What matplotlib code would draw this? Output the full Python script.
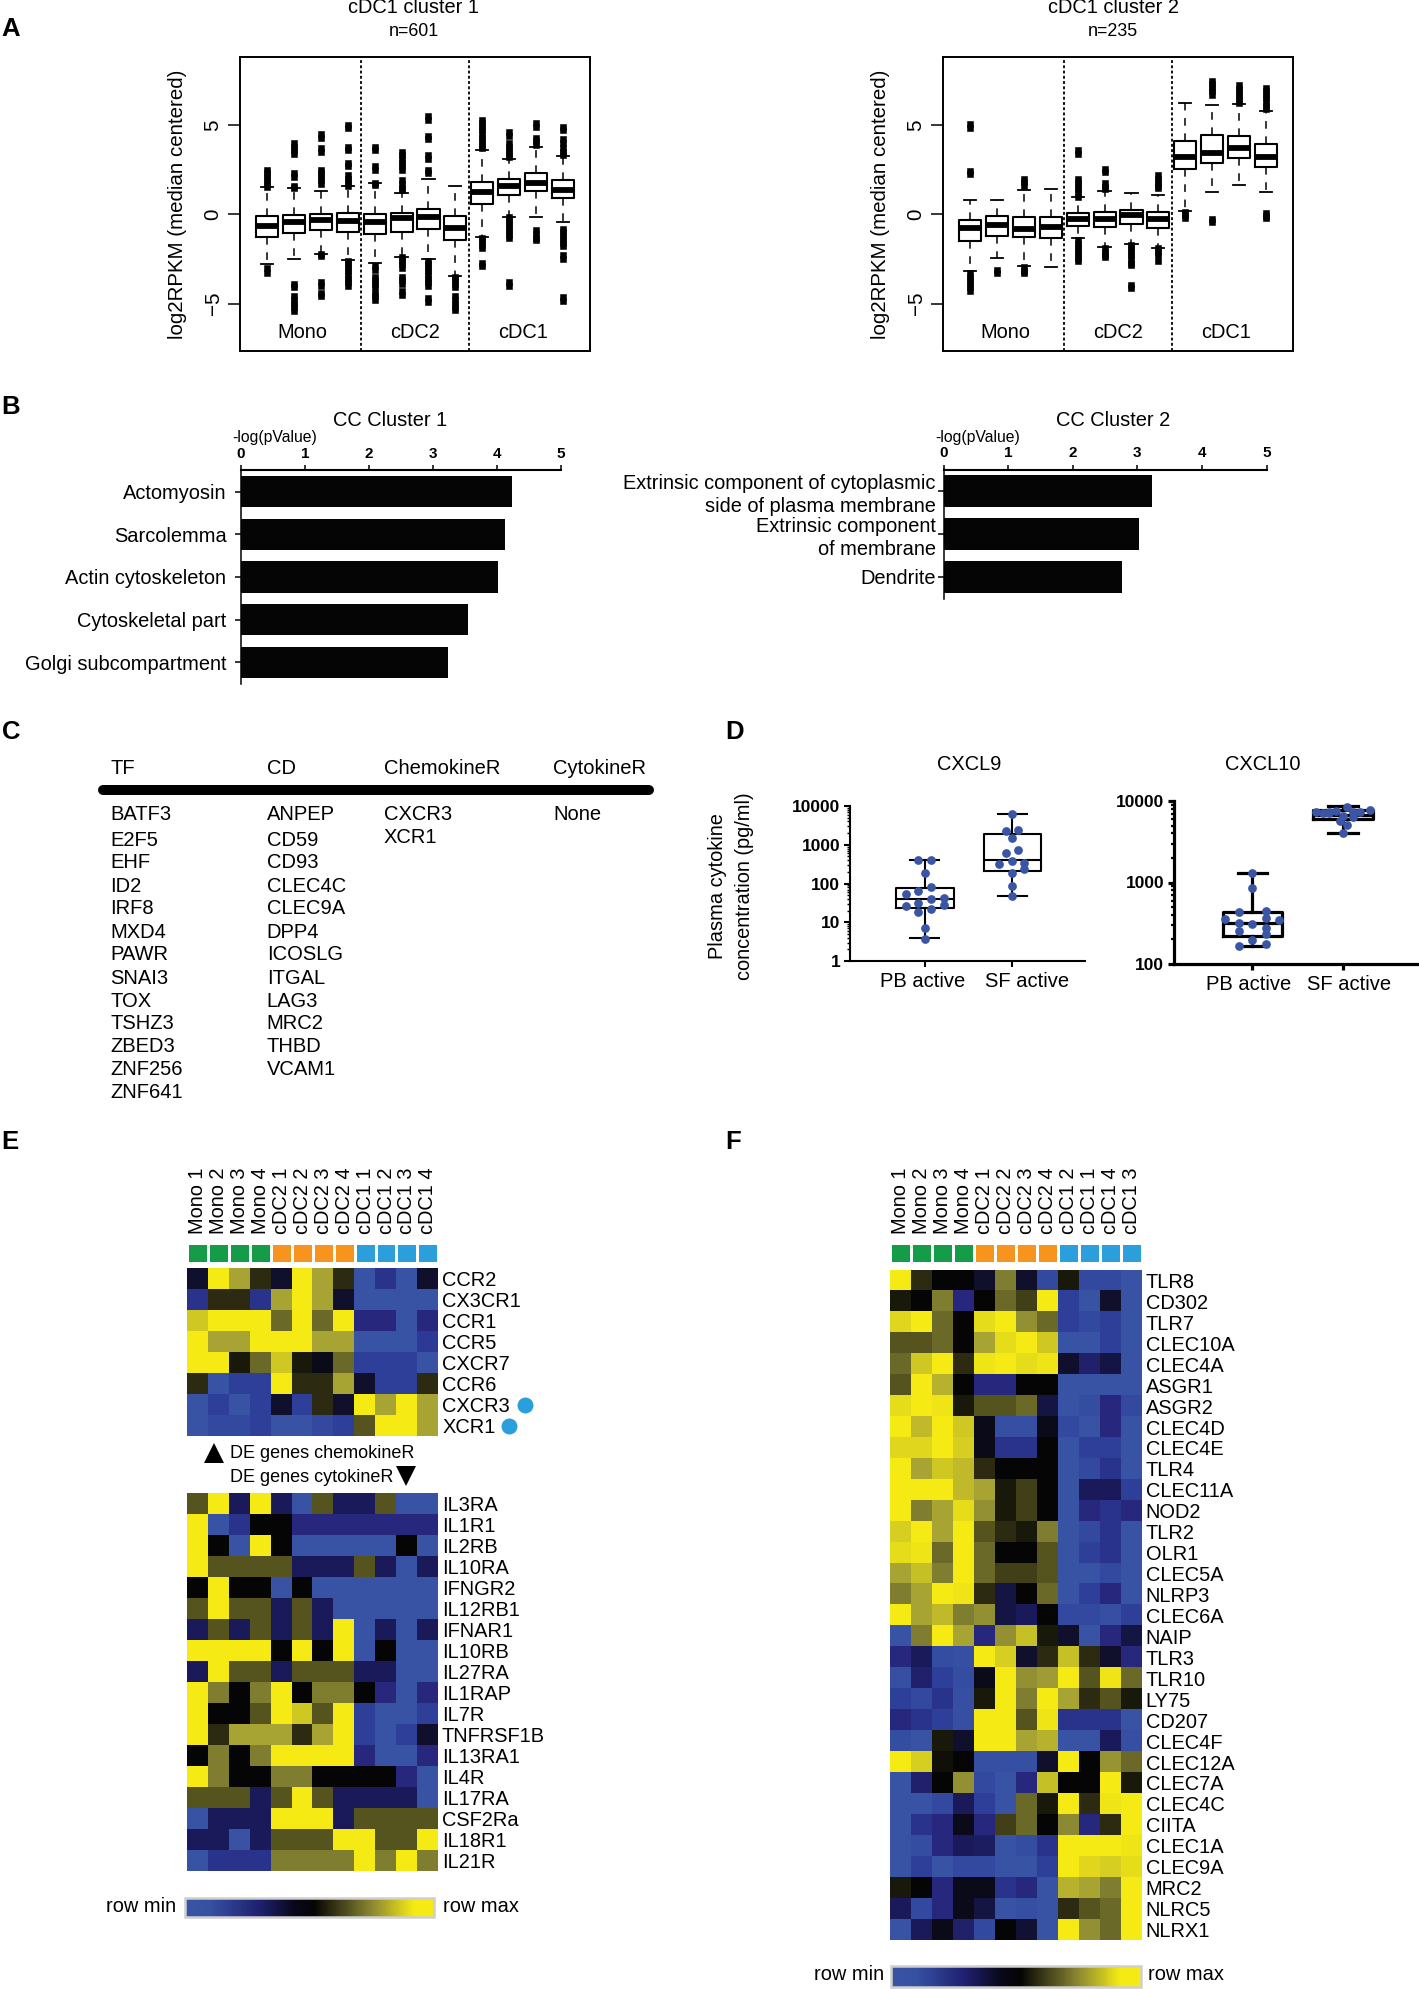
import numpy as np
import matplotlib
matplotlib.use("Agg")
import matplotlib.pyplot as plt
from matplotlib.cm import ScalarMappable
from matplotlib.colors import LinearSegmentedColormap, ListedColormap, Normalize
from matplotlib.transforms import ScaledTranslation

plt.rcParams['font.family'] = ['Liberation Sans', 'DejaVu Sans']

W, H = 1419, 1989
FS = 14.4

#region data A
a1_q3 = [-0.09, -0.04, 0.0, 0.09, 0.0, 0.06, 0.28, -0.07, 1.81, 2.0, 2.34, 1.9]
a1_med = [-0.64, -0.43, -0.32, -0.4, -0.41, -0.22, -0.17, -0.78, 1.23, 1.57, 1.78, 1.35]
a1_q1 = [-1.27, -1.03, -0.88, -1.0, -1.12, -0.97, -0.84, -1.44, 0.56, 1.1, 1.31, 0.9]
a1_hi = [1.51, 1.46, 1.3, 1.6, 1.74, 1.2, 1.98, 1.59, 3.59, 3.1, 3.78, 3.29]
a1_lo = [-2.77, -2.5, -2.2, -2.56, -2.7, -2.37, -2.52, -3.44, -1.29, -0.17, -0.17, -0.43]
a1_out = [
    [2.5, 2.3, 2.1, 1.9, 1.7, 1.55, -3.0, -3.3],
    [4.0, 3.8, 3.6, 3.4, 2.3, 2.1, 1.6, 1.5, -3.9, -4.1, -4.6, -4.8, -5.0, -5.2, -5.4],
    [4.5, 4.3, 3.7, 3.5, 2.5, 2.3, 2.1, 1.9, 1.7, -2.2, -2.35, -3.8, -4.0, -4.4, -4.6],
    [5.0, 4.85, 3.8, 3.6, 2.9, 2.7, 2.2, 2.0, 1.8, 1.6, -2.6, -2.8, -3.0, -3.2, -3.4, -3.6, -3.8, -4.0],
    [3.8, 3.6, 2.7, 2.5, 1.75, 1.65, -2.9, -3.1, -3.5, -3.7, -3.9, -4.1, -4.4, -4.6, -4.8],
    [3.5, 3.3, 3.1, 2.9, 2.7, 2.5, 1.9, 1.7, 1.5, 1.35, -2.4, -2.6, -2.8, -3.0, -3.5, -3.7, -3.9, -4.3, -4.5],
    [5.5, 5.3, 4.4, 4.2, 3.3, 3.1, 2.5, 2.3, -2.6, -2.8, -3.0, -3.2, -3.4, -3.6, -3.8, -4.0, -4.7, -4.9],
    [-3.5, -3.7, -3.9, -4.05, -4.6, -4.8, -5.0, -5.2, -5.35],
    [5.3, 5.1, 4.9, 4.7, 4.5, 4.3, 4.1, 3.9, 3.7, -1.3, -1.5, -1.7, -1.9, -2.7, -2.9],
    [4.6, 4.4, 4.0, 3.8, 3.6, 3.4, 3.2, -0.15, -0.35, -0.55, -0.75, -0.95, -1.15, -1.35, -3.8, -4.0],
    [5.1, 4.9, 4.3, 4.1, 3.9, -0.9, -1.1, -1.3, -1.45],
    [4.9, 4.7, 4.2, 4.0, 3.7, 3.5, 3.3, -0.8, -1.0, -1.2, -1.4, -1.6, -1.8, -2.3, -2.5, -4.65, -4.85],
]

a2_q3 = [-0.32, -0.09, -0.17, -0.17, 0.06, 0.15, 0.24, 0.11, 4.11, 4.43, 4.41, 3.93]
a2_med = [-0.78, -0.6, -0.82, -0.69, -0.26, -0.24, -0.04, -0.26, 3.2, 3.46, 3.72, 3.2]
a2_q1 = [-1.51, -1.2, -1.29, -1.31, -0.63, -0.69, -0.52, -0.75, 2.52, 2.9, 3.14, 2.65]
a2_hi = [0.8, 0.8, 1.36, 1.4, 0.99, 1.33, 1.21, 1.07, 6.22, 6.15, 6.19, 5.81]
a2_lo = [-3.2, -2.45, -2.88, -2.93, -1.3, -1.85, -1.68, -1.9, 0.2, 1.25, 1.63, 1.23]
a2_out = [
    [5.05, 4.85, 2.45, 2.25, -3.3, -3.5, -3.7, -3.9, -4.1, -4.3],
    [-3.1, -3.3],
    [2.0, 1.8, 1.6, -2.95, -3.15, -3.3],
    [],
    [3.6, 3.4, 2.0, 1.8, 1.6, 1.4, 1.2, 1.0, -1.45, -1.65, -1.85, -2.05, -2.25, -2.45, -2.6],
    [2.55, 2.35, 1.75, 1.55, 1.4, -1.9, -2.1, -2.3, -2.4],
    [-1.7, -1.9, -2.1, -2.3, -2.5, -2.7, -2.85, -3.95, -4.15],
    [2.2, 2.0, 1.8, 1.6, 1.5, -1.9, -2.1, -2.3, -2.6],
    [0.15, -0.05, -0.2],
    [7.5, 7.3, 7.1, 6.9, 6.7, -0.25, -0.45],
    [7.25, 7.05, 6.85, 6.65, 6.45, 6.25],
    [7.1, 6.9, 6.7, 6.5, 6.3, 6.1, 5.9, 0.1, -0.1, -0.2],
]
group_names = ["Mono", "cDC2", "cDC1"]
#endregion

#region data B
b1_terms = ["Actomyosin", "Sarcolemma", "Actin cytoskeleton", "Cytoskeletal part", "Golgi subcompartment"]
b1_vals = [4.23, 4.13, 4.02, 3.55, 3.23]
b2_terms = ["Extrinsic component of cytoplasmic\nside of plasma membrane", "Extrinsic component\nof membrane", "Dendrite"]
b2_vals = [3.22, 3.03, 2.77]
#endregion

#region data C
c_tf = ["BATF3", "E2F5", "EHF", "ID2", "IRF8", "MXD4", "PAWR", "SNAI3", "TOX", "TSHZ3", "ZBED3", "ZNF256", "ZNF641"]
c_cd = ["ANPEP", "CD59", "CD93", "CLEC4C", "CLEC9A", "DPP4", "ICOSLG", "ITGAL", "LAG3", "MRC2", "THBD", "VCAM1"]
c_chemo = ["CXCR3", "XCR1"]
c_cyto = ["None"]
#endregion

#region data D
d_cats = ["PB active", "SF active"]
d9_pb = [398, 407, 192, 80, 63, 53, 39, 43, 32, 27, 28, 22, 18, 7, 3.8]
d9_pb_off = [-0.074, 0.069, 0, 0.069, -0.074, -0.218, 0.069, 0.213, -0.074, -0.218, 0.213, 0.069, -0.074, 0, 0]
d9_sf = [6100, 2317, 2360, 1530, 722, 617, 384, 315, 340, 230, 188, 85, 47]
d9_sf_off = [0, -0.074, 0.069, 0, 0.069, -0.074, 0, -0.149, 0.138, 0.138, 0, 0, 0]
d9_stats = [(23, 39, 77, 3.9, 407), (216, 398, 1870, 47, 6100)]

d10_pb = [1290, 852, 432, 449, 361, 364, 351, 316, 313, 275, 255, 232, 197, 176, 166]
d10_pb_off = [0, 0, -0.149, 0.149, -0.303, 0.149, 0.297, -0.149, 0, 0.149, -0.149, 0.149, 0, 0.149, -0.149]
d10_sf = [4000, 5010, 5730, 7260, 7050, 7260, 7530, 8430, 7260, 7400, 7670, 6610, 6360, 7050]
d10_sf_off = [0, 0.04, -0.036, -0.297, -0.226, -0.149, -0.072, 0.04, 0.113, 0.185, 0.297, 0, 0.113, -0.149]
d10_stats = [(221, 316, 436, 166, 1290), (6010, 6790, 7670, 4000, 8590)]
#endregion

#region data E F
e_cols = ["Mono 1", "Mono 2", "Mono 3", "Mono 4", "cDC2 1", "cDC2 2", "cDC2 3", "cDC2 4", "cDC1 1", "cDC1 2", "cDC1 3", "cDC1 4"]
f_cols = ["Mono 1", "Mono 2", "Mono 3", "Mono 4", "cDC2 1", "cDC2 2", "cDC2 3", "cDC2 4", "cDC1 2", "cDC1 1", "cDC1 4", "cDC1 3"]
col_groups = [0, 0, 0, 0, 1, 1, 1, 1, 2, 2, 2, 2]

# levels: 0 blue, 5 black, 10 yellow
e1_rows = ["CCR2", "CX3CR1", "CCR1", "CCR5", "CXCR7", "CCR6", "CXCR3", "XCR1"]
e1_vals = [
    [4, 10, 9, 6, 4, 10, 9, 6, 0, 1.5, 0, 4],
    [1.5, 6, 6, 1.5, 9, 10, 9, 4, 0, 0, 0, 0],
    [9.5, 10, 10, 10, 7.5, 10, 7.5, 10, 2, 2, 0, 2],
    [10, 9, 9, 10, 10, 10, 9, 9, 0, 0, 0, 1.2],
    [10, 10, 5.5, 7.5, 9.5, 5.5, 4.5, 7.5, 1, 1, 1, 0],
    [6, 0, 1, 1, 10, 6, 6, 9, 4, 1, 1, 6],
    [0, 1, 0, 1, 4, 1, 6, 4, 10, 9, 10, 9],
    [0, 0.5, 0.5, 1, 0, 0, 0.5, 1, 7, 10, 10, 9],
]
e2_rows = ["IL3RA", "IL1R1", "IL2RB", "IL10RA", "IFNGR2", "IL12RB1", "IFNAR1", "IL10RB", "IL27RA", "IL1RAP", "IL7R",
           "TNFRSF1B", "IL13RA1", "IL4R", "IL17RA", "CSF2Ra", "IL18R1", "IL21R"]
e2_vals = [
    [7, 10, 3, 10, 3, 0, 7, 3, 3, 7, 0, 0],
    [10, 0, 1.5, 5, 5, 2, 2, 2, 2, 2, 2, 2],
    [10, 5, 0, 10, 5, 0, 0, 0, 0, 0, 5, 0],
    [10, 7, 7, 7, 7, 3, 3, 3, 7, 3, 0, 3],
    [5, 10, 5, 5, 0, 5, 0, 0, 0, 0, 0, 0],
    [7, 10, 7, 7, 3, 7, 3, 0, 0, 0, 0, 0],
    [3, 7, 3, 7, 3, 7, 3, 10, 0, 3, 0, 3],
    [10, 10, 10, 10, 5, 10, 5, 10, 0, 5, 0, 0],
    [3, 10, 7, 7, 3, 7, 7, 7, 3, 3, 0, 0],
    [10, 8, 5, 8, 10, 5, 8, 8, 5, 2, 0, 2],
    [10, 5, 5, 7, 10, 9.5, 7, 10, 1, 0, 0, 1],
    [10, 6, 9, 9, 9, 6, 9, 10, 1, 0, 1, 4],
    [5, 8, 5, 8, 10, 10, 10, 10, 2, 0, 0, 2],
    [10, 8, 5, 5, 8, 8, 5, 5, 5, 5, 2, 0],
    [7, 7, 7, 3, 7, 10, 7, 3, 3, 3, 3, 0],
    [0, 3, 3, 3, 10, 10, 10, 3, 7, 7, 7, 7],
    [3, 3, 0, 3, 7, 7, 7, 10, 10, 7, 7, 10],
    [0, 1.5, 1.5, 1.5, 8, 8, 8, 8, 10, 8, 10, 8],
]
f_rows = ["TLR8", "CD302", "TLR7", "CLEC10A", "CLEC4A", "ASGR1", "ASGR2", "CLEC4D", "CLEC4E", "TLR4", "CLEC11A", "NOD2",
          "TLR2", "OLR1", "CLEC5A", "NLRP3", "CLEC6A", "NAIP", "TLR3", "TLR10", "LY75", "CD207", "CLEC4F", "CLEC12A",
          "CLEC7A", "CLEC4C", "CIITA", "CLEC1A", "CLEC9A", "MRC2", "NLRC5", "NLRX1"]
f_vals = [
    [10, 6, 5, 5, 4, 8, 4, 0.5, 5.5, 0.5, 0.5, 0],
    [5.5, 5, 8, 2, 5, 7.5, 6.5, 10, 1, 0, 4, 0],
    [9.7, 10, 7.5, 5, 9.8, 10, 8.5, 7.5, 1, 0.5, 1, 0],
    [7, 7, 7.5, 5, 9, 9.8, 10, 9.5, 0, 0, 1, 0],
    [7.5, 9.5, 10, 6, 9.9, 10, 9.8, 9.9, 4, 2.5, 3.5, 0],
    [7, 10, 9.2, 5, 2, 2, 5, 5, 0, 0, 0, 0],
    [9.8, 10, 9.9, 5.5, 7, 7, 7.5, 3.5, 0, 0.3, 2, 0.5],
    [10, 9.3, 10, 9.5, 4.5, 0.2, 0.2, 4.5, 0.5, 0, 2, 0],
    [9.7, 9.7, 10, 9.6, 4.5, 1.5, 1.5, 5, 0, 1, 1, 0],
    [10, 9, 9.5, 9.3, 6, 5, 5, 5, 0, 0.5, 1.5, 0],
    [10, 10, 10, 9.3, 9, 5.5, 6.5, 5, 0, 3, 3, 1],
    [10, 8, 9, 9.8, 8.5, 5.5, 6.5, 5, 0, 2, 1.5, 2],
    [9.6, 10, 9, 10, 7, 6, 5.5, 8, 0, 0.5, 1.5, 0],
    [9.8, 9.9, 7.5, 10, 7.5, 5, 5, 7, 0, 1, 1.5, 0],
    [9, 9.4, 8, 10, 7.5, 6.5, 6.5, 7, 0, 0, 0.5, 0],
    [8, 9, 10, 9.9, 6, 3.5, 5, 7.5, 0, 1, 2, 0],
    [10, 9, 9.3, 8, 8.5, 3.5, 3, 5, 0.5, 0.5, 0.2, 1],
    [0, 8, 10, 9, 2, 8.5, 9.4, 5.5, 4, 0, 2, 3.5],
    [2, 3, 0.3, 0.2, 10, 9.6, 4, 6, 9.4, 6, 4, 2],
    [0.2, 2.5, 1, 0.3, 4.5, 10, 8.5, 8.8, 10, 7, 9.9, 7.5],
    [1, 0.5, 1.5, 0.2, 5.5, 10, 8, 10, 9, 6, 7, 5.5],
    [2, 1.5, 1, 0.2, 10, 10, 7, 9.9, 1.5, 1.5, 1.5, 0],
    [0.3, 0, 5.5, 4, 10, 10, 9, 9.2, 0, 0, 3, 0.2],
    [10, 9.6, 5.3, 5, 0.2, 0.2, 0.2, 4, 10, 5, 8.6, 7.5],
    [0, 2.5, 5, 8.5, 0.5, 0, 2, 9.4, 5, 5, 10, 5.5],
    [0, 0, 0.5, 3, 1, 0, 7.5, 5.5, 10, 6, 9.9, 10],
    [0, 1.5, 2, 4.5, 2, 6.5, 7.5, 5, 8.3, 2, 6, 10],
    [0, 0.3, 2, 3, 2.8, 0, 0.3, 1.5, 10, 10, 10, 9.9],
    [0, 1, 0, 0.5, 0.5, 0, 0, 1, 10, 9.7, 9.6, 9.8],
    [5.5, 5, 2, 4.5, 4.5, 1.5, 2, 0, 9.2, 9, 8, 10],
    [3, 0.5, 2, 4.5, 3.5, 0, 0.2, 0, 6, 7, 7.5, 10],
    [0, 3, 4.5, 2.5, 0.5, 5, 3.8, 0, 10, 8.5, 7.5, 10],
]
#endregion

heat_cmap = LinearSegmentedColormap.from_list("rowscale", [
    "#3953A4", "#2E3F9A", "#27277E", "#1A1A5A", "#10102C", "#050505",
    "#2D2C12", "#55531E", "#7F7E30", "#A6A335", "#F5EA14"])
# the printed scale bar reaches full yellow earlier than the cells do
bar_cmap = LinearSegmentedColormap.from_list("rowbar", [
    (0, "#3953A4"), (0.1, "#3650A3"), (0.3, "#1F1F6E"), (0.44, "#08081A"), (0.52, "#050505"),
    (0.75, "#8A8732"), (0.92, "#F5EA14"), (1, "#F5EA14")])
heat_norm = Normalize(0, 10)
strip_cmap = ListedColormap(["#149C48", "#F7941D", "#2B9FDB"])
point_blue = "#3B55A5"

fig = plt.figure(figsize=(W / 100, H / 100), dpi=100)


def px_axes(x0, y0, x1, y1):
    # axes from pixel box of the target image
    return fig.add_axes([x0 / W, 1 - y1 / H, (x1 - x0) / W, (y1 - y0) / H])


# overlay in pixel coords for panel letters, free text and decoration
ov = px_axes(0, 0, W, H)
ov.set_xlim(0, W)
ov.set_ylim(H, 0)
ov.axis("off")
ov.set_zorder(10)


def txt(x, y, s, ha="left", size=FS, **kw):
    ov.text(x, y, s, ha=ha, va="center", fontsize=size, **kw)


for letter, lx, ly in [("A", 11, 29), ("B", 11, 407), ("C", 11, 732), ("D", 735, 732), ("E", 10, 1142), ("F", 733, 1142)]:
    txt(lx, ly, letter, ha="center", size=18.5, fontweight="bold")


#region panel A
def rbox(box, q1, med, q3, lo, hi, out):
    ax = px_axes(*box)
    stats = [dict(med=med[i], q1=q1[i], q3=q3[i], whislo=lo[i], whishi=hi[i], fliers=out[i]) for i in range(12)]
    ax.bxp(stats, positions=range(1, 13), widths=0.82, capwidths=0.45, manage_ticks=False,
           boxprops=dict(color="black", lw=1.5),
           medianprops=dict(color="black", lw=4.2, solid_capstyle="butt"),
           whiskerprops=dict(color="black", lw=1.1, linestyle=(0, (5, 5))),
           capprops=dict(color="black", lw=1.3),
           flierprops=dict(marker="s", markersize=4.6, markerfacecolor="black", markeredgecolor="black", markeredgewidth=0.4))
    ax.set_xlim(0, 13)
    ax.set_ylim(-7.66, 8.82)
    ax.set_xticks([])
    ax.set_yticks([-5, 0, 5])
    ax.set_yticklabels(["\u22125", "0", "5"], rotation=90, va="center", fontsize=FS + 0.5)
    ax.tick_params(axis="y", length=8.5, width=1.1, pad=4)
    ax.set_ylabel("log2RPKM (median centered)", fontsize=FS + 0.4, labelpad=12)
    for s in ax.spines.values():
        s.set_linewidth(1.4)
    for xv in [4.5, 8.5]:
        ax.axvline(xv, color="black", lw=1.3, linestyle=(0, (1.6, 1.3)))
    for gx, name in zip([2.3, 6.5, 10.5], group_names):
        ax.text(gx, -6.6, name, ha="center", va="center", fontsize=FS)
    return ax


rbox((240, 57, 590, 351), a1_q1, a1_med, a1_q3, a1_lo, a1_hi, a1_out)
rbox((943, 57, 1293, 351), a2_q1, a2_med, a2_q3, a2_lo, a2_hi, a2_out)
txt(414, 7, "cDC1 cluster 1", ha="center")
txt(414, 31, "n=601", ha="center", size=FS - 1.5)
txt(1113, 7, "cDC1 cluster 2", ha="center")
txt(1113, 31, "n=235", ha="center", size=FS - 1.5)
#endregion


#region panel B
def bar_panel(box, terms, vals, ylim, pad):
    ax = px_axes(*box)
    ax.barh(range(len(vals)), vals, height=0.73, color="#050505")
    ax.set_xlim(0, 5)
    ax.set_ylim(*ylim)
    ax.xaxis.tick_top()
    ax.set_xticks(range(6))
    ax.set_xticklabels(range(6), fontsize=11, fontweight="bold")
    ax.set_yticks(range(len(vals)))
    ax.set_yticklabels(terms, fontsize=FS, linespacing=1.25)
    ax.tick_params(axis="x", length=3.5, width=1.1, pad=3)
    ax.tick_params(axis="y", length=4.5, width=1.1, pad=pad)
    ax.spines["right"].set_visible(False)
    ax.spines["bottom"].set_visible(False)
    ax.spines["top"].set_linewidth(1.5)
    ax.spines["left"].set_linewidth(1.1)
    return ax


bar_panel((241, 470, 561, 684), b1_terms, b1_vals, (4.51, -0.51), 6)
bar_panel((943.5, 469.5, 1266.5, 599), b2_terms, b2_vals, (2.516, -0.5), 1)
txt(390, 420, "CC Cluster 1", ha="center")
txt(275, 437, "-log(pValue)", ha="center", size=11.3)
txt(1113, 420, "CC Cluster 2", ha="center")
txt(978, 437, "-log(pValue)", ha="center", size=11.3)
#endregion

#region panel C
for name, xp in [("TF", 110.6), ("CD", 266.7), ("ChemokineR", 384), ("CytokineR", 553)]:
    txt(xp, 768, name, size=14.5)
ov.plot([102.5, 649], [790, 790], color="black", lw=7.2, solid_capstyle="round")
row_y = [814.3, 840, 863, 886, 909, 932, 955, 978, 1001, 1023.7, 1046.7, 1069.7, 1092.7]
for i, s in enumerate(c_tf):
    txt(110.6, row_y[i], s, size=14.5)
for i, s in enumerate(c_cd):
    txt(266.7, row_y[i], s, size=14.5)
txt(384, 814.3, c_chemo[0], size=14.5)
txt(384, 837.3, c_chemo[1], size=14.5)
txt(553, 814.3, c_cyto[0], size=14.5)
#endregion


#region panel D
def dot_box(box, stats, lw, xlim, ylim, dots, decades, label_dx):
    ax = px_axes(*box)
    ax.set_yscale("log")
    bs = [dict(med=m, q1=a, q3=b, whislo=lo, whishi=hi, fliers=[]) for a, m, b, lo, hi in stats]
    ax.bxp(bs, positions=[1, 2], widths=0.66, capwidths=0.33, manage_ticks=False, showfliers=False,
           boxprops=dict(color="black", lw=lw),
           medianprops=dict(color="black", lw=lw, solid_capstyle="butt"),
           whiskerprops=dict(color="black", lw=lw),
           capprops=dict(color="black", lw=lw))
    for pos, vals, off in dots:
        ax.plot(pos + np.array(off), vals, "o", color=point_blue, ms=6.3, mew=0, clip_on=False, zorder=5)
    ax.set_xlim(*xlim)
    ax.set_ylim(*ylim)
    ax.set_xticks([1, 2])
    ax.set_xticklabels(d_cats, fontsize=14.5)
    ax.set_yticks(decades)
    ax.set_yticklabels([str(d) for d in decades], fontsize=12.5, fontweight="bold")
    ax.tick_params(axis="both", which="major", length=4, width=lw, pad=3)
    ax.tick_params(axis="y", which="minor", length=2, width=lw * 0.7)
    ax.spines["top"].set_visible(False)
    ax.spines["right"].set_visible(False)
    ax.spines["left"].set_linewidth(lw)
    ax.spines["bottom"].set_linewidth(lw)
    # category labels sit off their ticks in the original
    for lab, dx in zip(ax.get_xticklabels(), label_dx):
        lab.set_transform(lab.get_transform() + ScaledTranslation(dx / 100, -1 / 100, fig.dpi_scale_trans))
    return ax


dot_box((850, 806, 1085, 961), d9_stats, 1.5, (0.144, 2.83), (1, 10000),
        [(1, d9_pb, d9_pb_off), (2, d9_sf, d9_sf_off)], [1, 10, 100, 1000, 10000], [-2, 15])
dot_box((1174, 801, 1419, 964), d10_stats, 2.3, (0.133, 2.84), (100, 10000),
        [(1, d10_pb, d10_pb_off), (2, d10_sf, d10_sf_off)], [100, 1000, 10000], [-4, 6])
txt(969, 765, "CXCL9", ha="center")
txt(1263, 765, "CXCL10", ha="center")
ov.text(731, 886, "Plasma cytokine\nconcentration (pg/ml)", rotation=90, ha="center", va="center", fontsize=FS, linespacing=1.5)
#endregion


#region panel E F
def heat(box, vals, rows):
    ax = px_axes(*box)
    ax.imshow(np.array(vals), cmap=heat_cmap, norm=heat_norm, aspect="auto", interpolation="nearest")
    ax.set_xticks([])
    ax.yaxis.tick_right()
    ax.set_yticks(range(len(rows)))
    ax.set_yticklabels(rows, fontsize=FS)
    ax.tick_params(axis="y", length=0, pad=3)
    for s in ax.spines.values():
        s.set_visible(False)
    return ax


def strip(box, cols):
    ax = px_axes(*box)
    ax.pcolormesh(np.array([col_groups]), cmap=strip_cmap, vmin=-0.5, vmax=2.5, edgecolors="white", linewidth=1.0)
    ax.xaxis.tick_top()
    ax.set_xticks(np.arange(12) + 0.5)
    ax.set_xticklabels(cols, rotation=90, fontsize=FS)
    ax.set_yticks([])
    ax.tick_params(axis="x", length=0, pad=6)
    for s in ax.spines.values():
        s.set_visible(False)
    return ax


def scale_bar(box):
    cax = px_axes(*box)
    cb = fig.colorbar(ScalarMappable(norm=heat_norm, cmap=bar_cmap), cax=cax, orientation="horizontal")
    cb.set_ticks([])
    cb.outline.set_edgecolor("#cfcfcf")
    cb.outline.set_linewidth(1.8)


strip((187.3, 1242.7, 438.3, 1263.3), e_cols)
heat((187.3, 1268.3, 438.3, 1436), e1_vals, e1_rows)
heat((187.3, 1493.3, 437.7, 1870.7), e2_vals, e2_rows)
ov.plot([524.7], [1405], "o", color="#2B9FDB", ms=11.5, mew=0)
ov.plot([509], [1425.7], "o", color="#2B9FDB", ms=11.5, mew=0)
ov.plot([214.3], [1453], "^", color="black", ms=14.5, mew=0)
ov.plot([406], [1476], "v", color="black", ms=14.5, mew=0)
txt(230, 1454, "DE genes chemokineR", size=13)
txt(230, 1477, "DE genes cytokineR", size=13)
scale_bar((185, 1897.7, 434.3, 1917.3))
txt(106, 1906, "row min")
txt(443, 1906, "row max")

strip((890, 1242.7, 1141.7, 1263.3), f_cols)
heat((890, 1270, 1141.7, 1940), f_vals, f_rows)
scale_bar((890.7, 1966, 1140.7, 1986.7))
txt(814, 1975, "row min")
txt(1148, 1975, "row max")
#endregion

plt.savefig("out.png", dpi=100)
